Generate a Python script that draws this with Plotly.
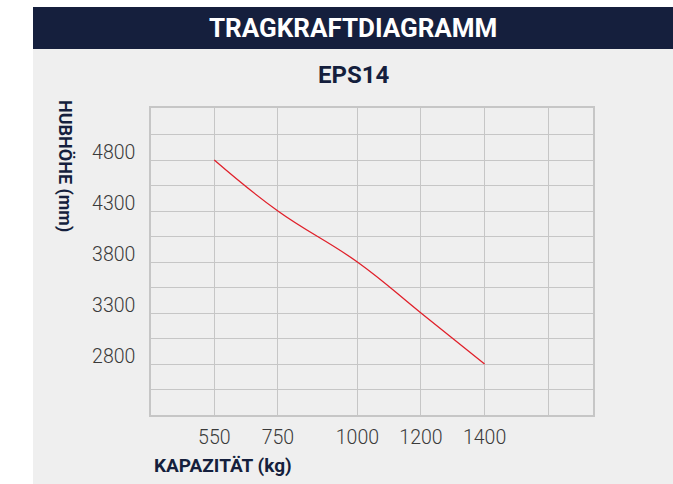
import plotly.graph_objects as go

# ---- data ----
capacity_kg = [550, 750, 1000, 1200, 1400]
lift_height_mm = [4800, 4300, 3800, 3300, 2800]
x_grid_vals = [550, 750, 1000, 1200, 1400, 1600]
x_tick_text = ["550", "750", "1000", "1200", "1400", ""]
y_grid_vals = [2550, 2800, 3050, 3300, 3550, 3800, 4050, 4300, 4550, 4800, 5050]
y_tick_text = ["", "2800", "", "3300", "", "3800", "", "4300", "", "4800", ""]

W, H = 673, 484
L, R, T, B = 151, 80, 108, 69
PW, PH = W - L - R, H - T - B

def px(x):
    return (x - L) / PW

def py(y):
    return (H - B - y) / PH

NAVY = "#151f3d"
GREY_BG = "#efefef"
GRID = "#c6c6c6"
COND = "Roboto, DejaVu Sans, sans-serif"
TICKF = "Roboto, Liberation Sans, sans-serif"

fig = go.Figure()
fig.add_trace(go.Scatter(
    x=capacity_kg, y=lift_height_mm, mode="lines",
    line=dict(color="#e0202a", width=1.3, shape="spline", smoothing=1.2),
    hoverinfo="x+y", showlegend=False,
))

fig.update_layout(
    width=W, height=H,
    margin=dict(l=L, r=R, t=T, b=B, autoexpand=False),
    paper_bgcolor="white", plot_bgcolor=GREY_BG,
    shapes=[
        dict(type="rect", xref="paper", yref="paper", x0=px(33), x1=px(673),
             y0=py(484), y1=py(49), fillcolor=GREY_BG, line=dict(width=0), layer="below"),
        dict(type="rect", xref="paper", yref="paper", x0=px(33), x1=px(673),
             y0=py(49), y1=py(7), fillcolor=NAVY, line=dict(width=0), layer="below"),
    ],
    annotations=[
        dict(text="<b>TRAGKRAFTDIAGRAMM</b>", xref="paper", yref="paper",
             x=px(353), y=py(28), xanchor="center", yanchor="middle", showarrow=False,
             font=dict(family=COND, size=26, color="white")),
        dict(text="<b>EPS14</b>", xref="paper", yref="paper",
             x=px(354), y=py(75), xanchor="center", yanchor="middle", showarrow=False,
             font=dict(family=COND, size=24, color=NAVY)),
        dict(text="<b>HUBHÖHE (mm)</b>", xref="paper", yref="paper",
             x=px(65), y=py(98), xanchor="center", yanchor="top", showarrow=False,
             textangle=90, font=dict(family=COND, size=18, color=NAVY)),
        dict(text="<b>KAPAZITÄT (kg)</b>", xref="paper", yref="paper",
             x=px(152), y=py(465), xanchor="left", yanchor="middle", showarrow=False,
             font=dict(family=COND, size=19, color=NAVY)),
    ],
    xaxis=dict(range=[351, 1741], tickmode="array", tickvals=x_grid_vals, ticktext=x_tick_text,
               showgrid=True, gridcolor=GRID, gridwidth=1, zeroline=False,
               showline=True, mirror=True, linecolor=GRID, linewidth=1.5,
               ticks="", ticklabelstandoff=4,
               tickfont=dict(family=TICKF, size=19.5, color="#3a3a3a", weight=300),
               fixedrange=True),
    yaxis=dict(range=[2300, 5310], tickmode="array", tickvals=y_grid_vals, ticktext=y_tick_text,
               showgrid=True, gridcolor=GRID, gridwidth=1, zeroline=False,
               showline=True, mirror=True, linecolor=GRID, linewidth=1.5,
               ticks="", ticklabelstandoff=10, ticklabelshift=-8,
               tickfont=dict(family=TICKF, size=19.5, color="#3a3a3a", weight=300),
               fixedrange=True),
)

post = "document.body.style.margin='0';document.body.style.padding='0';"
fig.write_html("out.html", post_script=post, config={"displayModeBar": False})
